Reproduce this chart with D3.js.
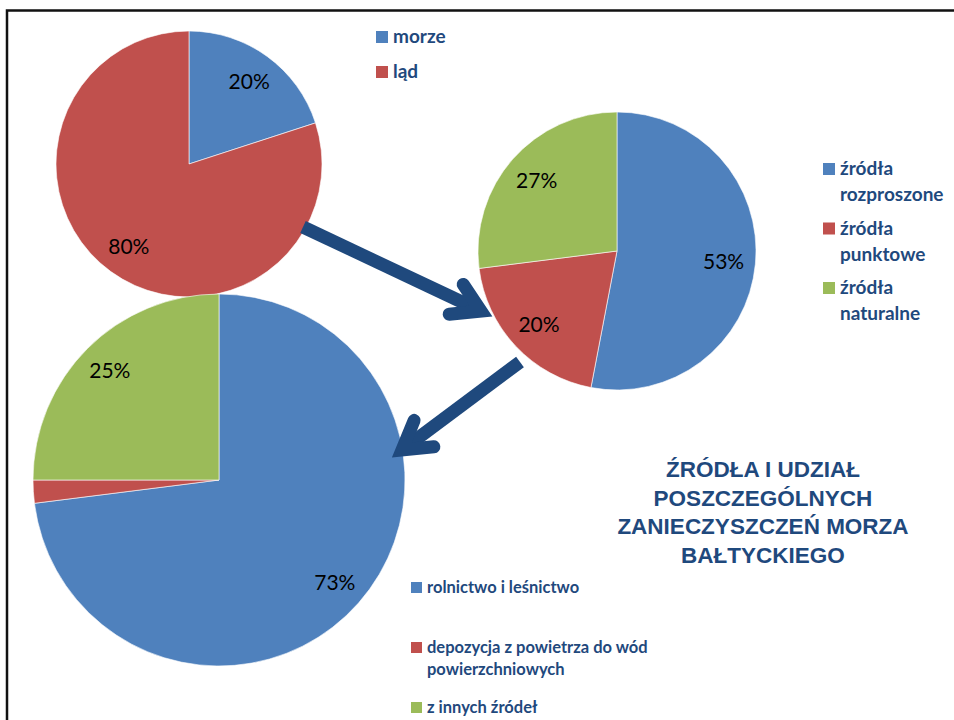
<!DOCTYPE html>
<html>
<head>
<meta charset="utf-8">
<script src="https://cdn.jsdelivr.net/npm/d3@7"></script>
<style>
body { margin: 0; background: #fff; }
svg { display: block; }
</style>
</head>
<body>
<svg id="chart"></svg>
<script>
const width = 954;
const height = 720;

// skąd pochodzą zanieczyszczenia
const originNames = [["morze"], ["ląd"]];
const originValues = [20, 80];

// rodzaje źródeł
const sourceNames = [["źródła", "rozproszone"], ["źródła", "punktowe"], ["źródła", "naturalne"]];
const sourceValues = [53, 20, 27];

// źródła rozproszone
const diffuseNames = [["rolnictwo i leśnictwo"], ["depozycja z powietrza do wód", "powierzchniowych"], ["z innych źródeł"]];
const diffuseValues = [73, 2, 25];

const titleLines = ["ŹRÓDŁA I UDZIAŁ", "POSZCZEGÓLNYCH", "ZANIECZYSZCZEŃ MORZA", "BAŁTYCKIEGO"];

const colors = ["#4f81bd", "#c0504d", "#9bbb59"];
const navy = "#1f497d";

const svg = d3.select("#chart")
    .attr("width", width)
    .attr("height", height);

// frame (only top and left edges are inside the picture)
svg.append("rect")
    .attr("x", 7).attr("y", 10.5)
    .attr("width", width + 20).attr("height", height + 20)
    .attr("fill", "none")
    .attr("stroke", "#111")
    .attr("stroke-width", 2.5);

function drawPie(values, cx, cy, r, labelK) {
    var pie = d3.pie().sort(null);
    var arc = d3.arc().innerRadius(0).outerRadius(r);
    var labelArc = d3.arc().innerRadius(r * labelK).outerRadius(r * labelK);
    var g = svg.append("g").attr("transform", `translate(${cx},${cy})`);
    var slices = pie(values);

    g.selectAll("path")
        .data(slices)
        .join("path")
        .attr("d", arc)
        .attr("fill", (d, i) => colors[i])
        .attr("stroke", "#fff")
        .attr("stroke-width", 0.6);

    g.selectAll("text")
        .data(slices.filter(d => d.data >= 5))
        .join("text")
        .attr("transform", d => `translate(${labelArc.centroid(d)})`)
        .attr("text-anchor", "middle")
        .attr("dy", "0.36em")
        .style("font-family", "Lato, 'Open Sans', sans-serif")
        .style("font-size", "21px")
        .style("fill", "#000")
        .text(d => d.data + "%");
}

function drawLegend(names, x, y, step, box, fontSize, lineH) {
    var g = svg.append("g");
    var rows = g.selectAll("g")
        .data(names)
        .join("g")
        .attr("transform", (d, i) => `translate(${x},${y + i * step})`);
    rows.append("rect")
        .attr("width", box).attr("height", box)
        .attr("fill", (d, i) => colors[i]);
    rows.append("text")
        .style("font-family", "Lato, 'Open Sans', sans-serif")
        .style("font-weight", "bold")
        .style("font-size", fontSize + "px")
        .style("fill", navy)
        .selectAll("tspan")
        .data(d => d)
        .join("tspan")
        .attr("x", box + 5)
        .attr("y", (d, j) => box + j * lineH)
        .text(d => d);
}

function drawArrow(p0, p1) {
    var a = Math.atan2(p1[1] - p0[1], p1[0] - p0[0]);
    var back = a + Math.PI;
    var spread = 31 * Math.PI / 180, len = 32;
    var b1 = [p1[0] + len * Math.cos(back + spread), p1[1] + len * Math.sin(back + spread)];
    var b2 = [p1[0] + len * Math.cos(back - spread), p1[1] + len * Math.sin(back - spread)];
    var g = svg.append("g")
        .attr("stroke", navy)
        .attr("stroke-width", 13)
        .attr("fill", "none");
    g.append("line")
        .attr("x1", p0[0]).attr("y1", p0[1])
        .attr("x2", p1[0]).attr("y2", p1[1]);
    g.append("path")
        .attr("d", `M${b1}L${p1}L${b2}`)
        .attr("stroke-linejoin", "miter")
        .attr("stroke-linecap", "round");
}

// order matters: big pie over the first one, arrows, then middle pie on top
drawPie(originValues, 189, 164, 133, 0.77);
drawPie(diffuseValues, 219, 480, 186, 0.83);
drawArrow([303, 227], [481, 311]);
drawArrow([520, 362], [402, 450]);
drawPie(sourceValues, 617, 251, 139, 0.77);

drawLegend(originNames, 376, 31, 35, 12, 19, 26);
drawLegend(sourceNames, 823, 163, 59.5, 12, 19, 26);
drawLegend(diffuseNames, 411, 582, 60, 11, 16.5, 22);

svg.append("text")
    .attr("text-anchor", "middle")
    .style("font-family", "'Liberation Sans', Arial, sans-serif")
    .style("font-weight", "bold")
    .style("font-size", "22.5px")
    .style("fill", navy)
    .selectAll("tspan")
    .data(titleLines)
    .join("tspan")
    .attr("x", 763)
    .attr("y", (d, i) => 477 + i * 28.7)
    .text(d => d);
</script>
</body>
</html>
